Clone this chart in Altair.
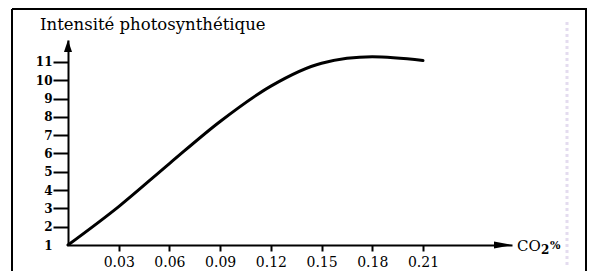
import altair as alt
import pandas as pd

# Data
co2 = [0.0, 0.03, 0.06, 0.09, 0.12, 0.15, 0.18, 0.21]
intensite = [1.0, 3.1, 5.45, 7.75, 9.68, 10.93, 11.28, 11.08]
x_ticks = [0.03, 0.06, 0.09, 0.12, 0.15, 0.18, 0.21]
y_ticks = [1, 2, 3, 4, 5, 6, 7, 8, 9, 10, 11]

title_text = "Intensité photosynthétique"
FONT = "DejaVu Serif"

df = pd.DataFrame({"co2": co2, "intensite": intensite})
one = pd.DataFrame({"k": [0]})

W, H = 444, 205
x_scale = alt.Scale(domain=[0, 0.26265], nice=False, zero=False)
y_scale = alt.Scale(domain=[1, 12.2], nice=False, zero=False)

curve = alt.Chart(df).mark_line(
    color="black", strokeWidth=3, interpolate="monotone", strokeCap="round"
).encode(
    x=alt.X("co2:Q", scale=x_scale,
            axis=alt.Axis(values=x_ticks, format=".2f", title=None, grid=False,
                          domainColor="black", domainWidth=2, tickColor="black",
                          tickWidth=2, tickSize=6, labelPadding=4,
                          labelFont=FONT, labelFontSize=14, labelColor="black",
                          labelFlush=False)),
    y=alt.Y("intensite:Q", scale=y_scale,
            axis=alt.Axis(values=y_ticks, format="d", title=None, grid=False,
                          domainColor="black", domainWidth=2, tickColor="black",
                          tickWidth=2, tickSize=15, labelPadding=1,
                          tickOpacity={"condition": {"test": "datum.value == 1", "value": 0}, "value": 1},
                          labelFont=FONT, labelFontSize=12, labelFontWeight="bold",
                          labelColor="black", labelFlush=False)),
)

# frame of the figure
frame_left = alt.Chart(one).mark_rule(color="black", strokeWidth=2).encode(
    x=alt.value(-56), y=alt.value(-31), y2=alt.value(232))
frame_right = alt.Chart(one).mark_rule(color="black", strokeWidth=2).encode(
    x=alt.value(518), y=alt.value(-31), y2=alt.value(232))
frame_top = alt.Chart(one).mark_rule(color="black", strokeWidth=2).encode(
    x=alt.value(-56), x2=alt.value(519), y=alt.value(-31))

# faint scan artefact line on the right
scan_line = alt.Chart(one).mark_rule(color="#e4dcef", strokeWidth=3, strokeDash=[3, 3]).encode(
    x=alt.value(499), y=alt.value(-18), y2=alt.value(227))

# arrow heads
arrow_up = alt.Chart(one).mark_point(
    shape="M0,-1L0.67,1L-0.67,1Z", filled=True, size=144, color="black", opacity=1
).encode(x=alt.value(0), y=alt.value(6))
arrow_right = alt.Chart(one).mark_point(
    shape="M1,0L-1,0.4L-1,-0.4Z", filled=True, size=324, color="black", opacity=1
).encode(x=alt.value(435), y=alt.value(205))

title = alt.Chart(one).mark_text(
    text=title_text, font=FONT, fontSize=16.5, align="left", baseline="alphabetic", color="black"
).encode(x=alt.value(-28), y=alt.value(-10))

co_txt = alt.Chart(one).mark_text(
    text="CO", font=FONT, fontSize=15, align="left", baseline="alphabetic", color="black"
).encode(x=alt.value(449), y=alt.value(211))
sub_txt = alt.Chart(one).mark_text(
    text="2", font=FONT, fontSize=12, fontWeight="bold", align="left", baseline="alphabetic", color="black"
).encode(x=alt.value(473), y=alt.value(214))
pct_txt = alt.Chart(one).mark_text(
    text="%", font=FONT, fontSize=11, fontWeight="bold", align="left", baseline="alphabetic", color="black"
).encode(x=alt.value(482), y=alt.value(209))

chart = alt.layer(
    frame_left, frame_right, frame_top, scan_line, curve,
    arrow_up, arrow_right, title, co_txt, sub_txt, pct_txt
).properties(
    width=W, height=H,
    autosize="none",
    padding={"left": 60, "top": 32, "right": 75, "bottom": 26},
    background="white",
).configure_view(stroke=None)

chart.save("out.html", embed_options={"renderer": "svg", "actions": False})
